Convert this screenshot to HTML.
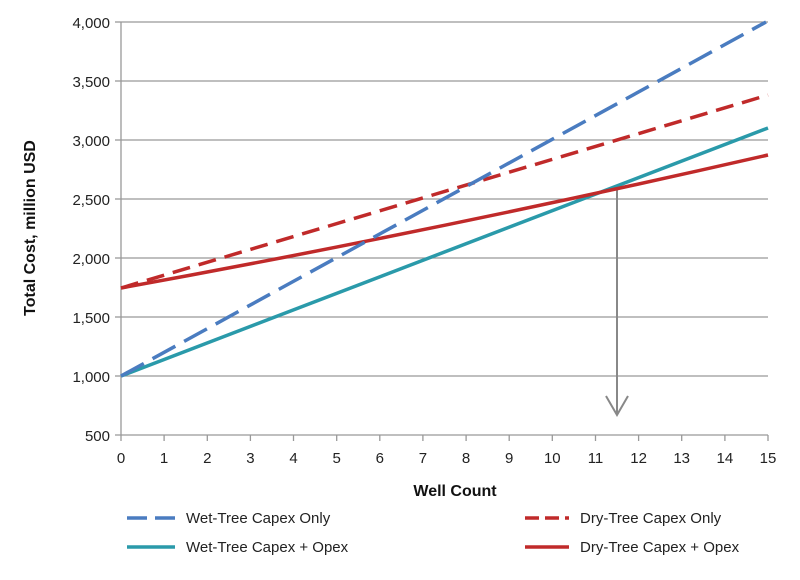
<!DOCTYPE html>
<html><head><style>body{margin:0;background:#fff}</style></head><body>
<svg width="800" height="575" xmlns="http://www.w3.org/2000/svg" font-family="Liberation Sans, Arial, sans-serif">
<g stroke="#999" stroke-width="1.3">
<line x1="121" y1="22" x2="768" y2="22"/><line x1="121" y1="81" x2="768" y2="81"/>
<line x1="121" y1="140" x2="768" y2="140"/><line x1="121" y1="199" x2="768" y2="199"/>
<line x1="121" y1="258" x2="768" y2="258"/><line x1="121" y1="317" x2="768" y2="317"/>
<line x1="121" y1="376" x2="768" y2="376"/>
<line x1="121" y1="22" x2="121" y2="435"/><line x1="115" y1="435" x2="768" y2="435"/>
<line x1="115" y1="22" x2="121" y2="22"/><line x1="115" y1="81" x2="121" y2="81"/><line x1="115" y1="140" x2="121" y2="140"/><line x1="115" y1="199" x2="121" y2="199"/><line x1="115" y1="258" x2="121" y2="258"/><line x1="115" y1="317" x2="121" y2="317"/><line x1="115" y1="376" x2="121" y2="376"/>
</g>
<g stroke="#999" stroke-width="1.3">
<line x1="121" y1="435" x2="121" y2="441"/><line x1="164.1" y1="435" x2="164.1" y2="441"/><line x1="207.3" y1="435" x2="207.3" y2="441"/><line x1="250.4" y1="435" x2="250.4" y2="441"/><line x1="293.5" y1="435" x2="293.5" y2="441"/><line x1="336.7" y1="435" x2="336.7" y2="441"/><line x1="379.8" y1="435" x2="379.8" y2="441"/><line x1="422.9" y1="435" x2="422.9" y2="441"/><line x1="466.1" y1="435" x2="466.1" y2="441"/><line x1="509.2" y1="435" x2="509.2" y2="441"/><line x1="552.3" y1="435" x2="552.3" y2="441"/><line x1="595.5" y1="435" x2="595.5" y2="441"/><line x1="638.6" y1="435" x2="638.6" y2="441"/><line x1="681.7" y1="435" x2="681.7" y2="441"/><line x1="724.9" y1="435" x2="724.9" y2="441"/><line x1="768" y1="435" x2="768" y2="441"/>
</g>
<g font-size="15" fill="#222" text-anchor="end">
<text x="110" y="28">4,000</text><text x="110" y="87">3,500</text><text x="110" y="146">3,000</text><text x="110" y="205">2,500</text><text x="110" y="264">2,000</text><text x="110" y="323">1,500</text><text x="110" y="382">1,000</text><text x="110" y="441">500</text>
</g>
<g font-size="15" fill="#222" text-anchor="middle">
<text x="121" y="463">0</text><text x="164.1" y="463">1</text><text x="207.3" y="463">2</text><text x="250.4" y="463">3</text><text x="293.5" y="463">4</text><text x="336.7" y="463">5</text><text x="379.8" y="463">6</text><text x="422.9" y="463">7</text><text x="466.1" y="463">8</text><text x="509.2" y="463">9</text><text x="552.3" y="463">10</text><text x="595.5" y="463">11</text><text x="638.6" y="463">12</text><text x="681.7" y="463">13</text><text x="724.9" y="463">14</text><text x="768" y="463">15</text>
</g>
<text x="455" y="496" font-size="16" font-weight="bold" text-anchor="middle" fill="#111">Well Count</text>
<text transform="translate(35,228) rotate(-90)" font-size="16" font-weight="bold" text-anchor="middle" fill="#111">Total Cost, million USD</text>
<line x1="617" y1="186" x2="617" y2="414" stroke="#888" stroke-width="2"/>
<polyline points="606,396 617,415 628,396" fill="none" stroke="#888" stroke-width="2"/>
<g fill="none" stroke-width="3.5">
<line x1="121" y1="376" x2="768" y2="128" stroke="#2a9aaa"/>
<path d="M121,288 Q440,230 768,155" stroke="#c02a2a"/>
<line x1="121" y1="288" x2="768" y2="95" stroke="#c02a2a" stroke-dasharray="18,9"/>
<line x1="121" y1="376" x2="766" y2="22" stroke="#4a7cc0" stroke-dasharray="26,10"/>
</g>
<g stroke-width="3.5">
<line x1="127" y1="518" x2="175" y2="518" stroke="#4a7cc0" stroke-dasharray="20,8"/>
<line x1="127" y1="547" x2="175" y2="547" stroke="#2a9aaa"/>
<line x1="525" y1="518" x2="569" y2="518" stroke="#c02a2a" stroke-dasharray="14,6"/>
<line x1="525" y1="547" x2="569" y2="547" stroke="#c02a2a"/>
</g>
<g font-size="15" fill="#222">
<text x="186" y="523">Wet-Tree Capex Only</text>
<text x="186" y="552">Wet-Tree Capex + Opex</text>
<text x="580" y="523">Dry-Tree Capex Only</text>
<text x="580" y="552">Dry-Tree Capex + Opex</text>
</g>
</svg>
</body></html>
